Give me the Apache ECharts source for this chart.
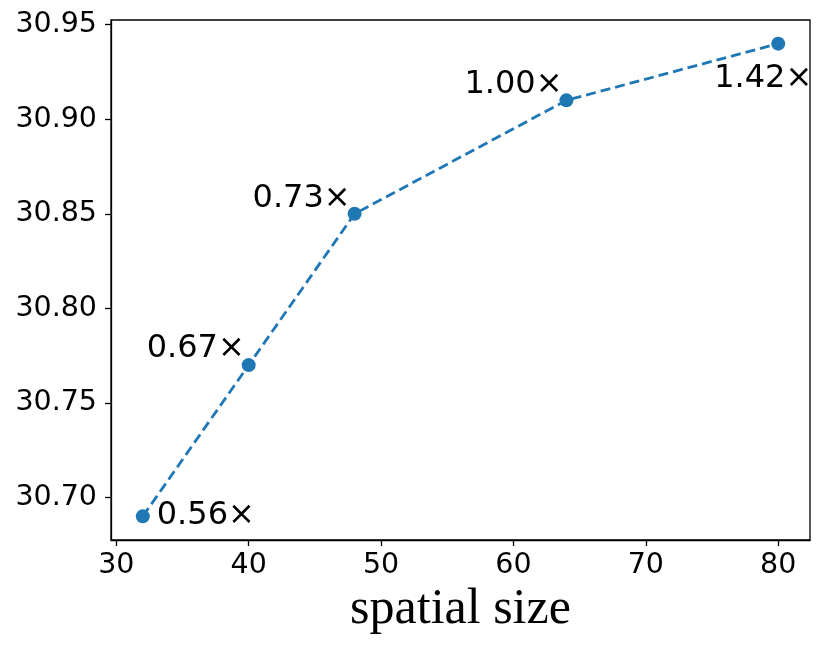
<!DOCTYPE html>
<html>
<head>
    <meta charset="utf-8">
    <title>spatial size</title>
    <script src="https://cdn.jsdelivr.net/npm/echarts@6/dist/echarts.min.js"></script>
    <style>
        html, body { margin: 0; padding: 0; background: #fff; }
        #chart { width: 830px; height: 651px; }
    </style>
</head>
<body>
    <div id="chart"></div>
    <script type="text/javascript">
        // data
        var sizes = [32, 40, 48, 64, 80];
        var scores = [30.69, 30.77, 30.85, 30.91, 30.94];
        var speedLabels = ['0.56×', '0.67×', '0.73×', '1.00×', '1.42×'];
        var xTicks = [30, 40, 50, 60, 70, 80];
        var yTicks = [30.70, 30.75, 30.80, 30.85, 30.90, 30.95];

        // where each annotation sits around its point (centre offset, px)
        var labelOffsets = [[63, -1], [-53, -16], [-53, -15], [-53, -16], [-15, 35]];

        var blue = '#1f77b4';
        var tickFont = 'DejaVu Sans';

        var points = sizes.map(function (x, i) {
            return {
                value: [x, scores[i]],
                label: {
                    show: true,
                    position: 'inside',
                    offset: labelOffsets[i],
                    formatter: speedLabels[i],
                    color: '#000',
                    fontFamily: tickFont,
                    fontSize: 32
                }
            };
        });

        var chart = echarts.init(document.getElementById('chart'));

        var option = {
            animation: false,
            backgroundColor: '#fff',
            grid: {
                left: 111, right: 20, top: 20, bottom: 111,
                show: true,
                borderColor: '#000',
                borderWidth: 1.3,
                containLabel: false
            },
            xAxis: {
                type: 'value',
                min: 29.6,
                max: 82.4,
                name: 'spatial size',
                nameLocation: 'middle',
                nameGap: 40,
                nameTextStyle: {
                    fontFamily: 'Liberation Serif',
                    fontSize: 50,
                    color: '#000'
                },
                splitLine: { show: false },
                axisLine: { show: true, onZero: false, lineStyle: { color: '#000', width: 1.3 } },
                axisTick: {
                    show: true,
                    customValues: xTicks,
                    length: 6,
                    lineStyle: { color: '#000', width: 1.3 }
                },
                axisLabel: {
                    customValues: xTicks,
                    margin: 11,
                    color: '#000',
                    fontFamily: tickFont,
                    fontSize: 28.5
                }
            },
            yAxis: {
                type: 'value',
                min: 30.6775,
                max: 30.9525,
                splitLine: { show: false },
                axisLine: { show: true, onZero: false, lineStyle: { color: '#000', width: 1.3 } },
                axisTick: {
                    show: true,
                    customValues: yTicks,
                    length: 6,
                    lineStyle: { color: '#000', width: 1.3 }
                },
                axisLabel: {
                    customValues: yTicks,
                    margin: 14,
                    color: '#000',
                    fontFamily: tickFont,
                    fontSize: 28.5,
                    formatter: function (v) { return v.toFixed(2); }
                }
            },
            series: [{
                type: 'line',
                data: points,
                symbol: 'circle',
                symbolSize: 14,
                showAllSymbol: true,
                clip: false,
                itemStyle: { color: blue },
                lineStyle: { color: blue, width: 2.8, type: [10, 5] }
            }]
        };

        chart.setOption(option);
    </script>
</body>
</html>
